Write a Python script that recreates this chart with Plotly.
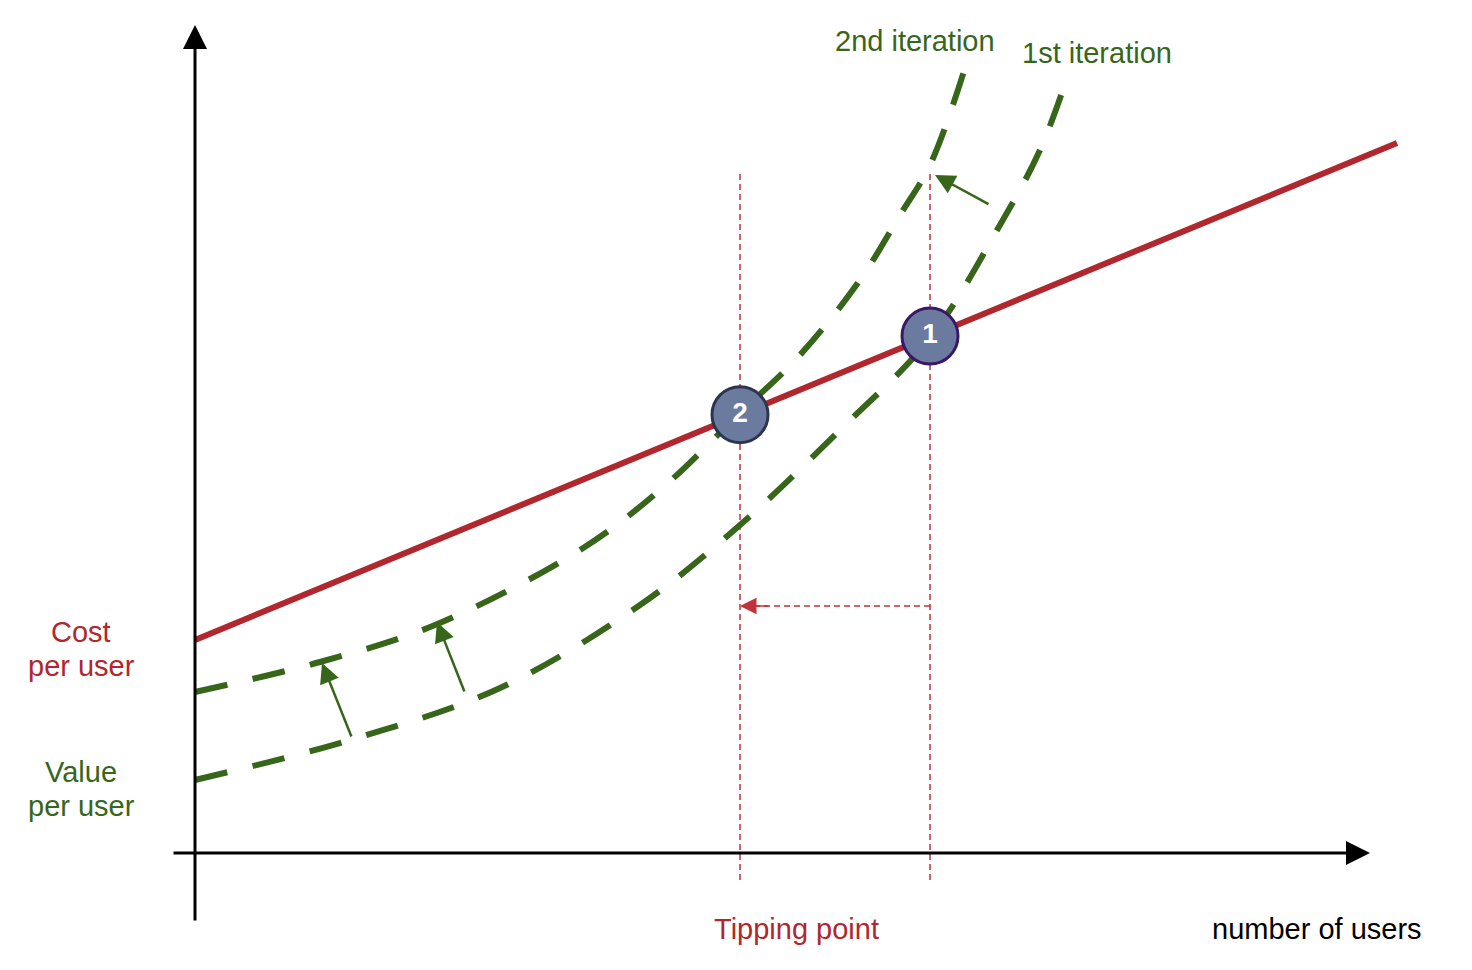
import plotly.graph_objects as go

# ---- data (units: x = users, y = value/cost per user; arbitrary concept units) ----
cost_x = [0.0, 12.02]
cost_y = [2.13, 7.10]

iter1_x = [0.00, 1.55, 3.05, 4.45, 5.45, 6.45, 7.35, 8.05, 8.45, 8.73]
iter1_y = [0.73, 1.13, 1.65, 2.48, 3.28, 4.23, 5.15, 6.28, 7.03, 7.78]

iter2_x = [0.00, 1.25, 2.40, 3.85, 4.65, 5.45, 6.05, 6.65, 7.05, 7.35, 7.70]
iter2_y = [1.61, 1.91, 2.28, 3.03, 3.63, 4.40, 4.98, 5.73, 6.38, 6.88, 7.85]

tipping_x = [7.35, 5.45]          # point 1, point 2
tipping_labels = ["1", "2"]

# shift arrows (tail x, tail y, head x, head y)
shift_tail_x = [1.57, 2.70, 7.95]
shift_tail_y = [1.15, 1.60, 6.48]
shift_head_x = [1.27, 2.42, 7.40]
shift_head_y = [1.90, 2.31, 6.78]

RED = "#b0272d"
RED_D = "#c0333a"
GREEN = "#37661b"
FONT = "Liberation Sans, Arial, Helvetica, sans-serif"

slope = (cost_y[1] - cost_y[0]) / (cost_x[1] - cost_x[0])
tip_y = [cost_y[0] + slope * x for x in tipping_x]

fig = go.Figure()

# vertical dashed red guide lines
for x in tipping_x:
    fig.add_trace(go.Scatter(x=[x, x], y=[-0.27, 6.81], mode="lines",
                             line=dict(color=RED_D, width=1.5, dash="6px,4px"),
                             hoverinfo="skip"))
# horizontal dashed arrow shaft
fig.add_trace(go.Scatter(x=[tipping_x[0], tipping_x[1] + 0.15], y=[2.47, 2.47], mode="lines",
                         line=dict(color=RED_D, width=1.5, dash="6px,4px"), hoverinfo="skip"))

# value curves
fig.add_trace(go.Scatter(x=iter1_x, y=iter1_y, mode="lines",
                         line=dict(color=GREEN, width=6, dash="33px,26px", shape="spline"),
                         hoverinfo="skip"))
fig.add_trace(go.Scatter(x=iter2_x, y=iter2_y, mode="lines",
                         line=dict(color=GREEN, width=6, dash="33px,26px", shape="spline"),
                         hoverinfo="skip"))

# cost line
fig.add_trace(go.Scatter(x=cost_x, y=cost_y, mode="lines",
                         line=dict(color=RED, width=6), hoverinfo="skip"))

# tipping point markers
border_cols = ["#3b1769", "#2c3550"]
for x, y, lab, bc in zip(tipping_x, tip_y, tipping_labels, border_cols):
    fig.add_trace(go.Scatter(x=[x], y=[y], mode="markers+text",
                             marker=dict(size=56, color="#6b7a9f", line=dict(color=bc, width=3)),
                             text=[f"<b>{lab}</b>"], textposition="middle center",
                             textfont=dict(color="white", size=28, family=FONT),
                             hoverinfo="skip"))

annotations = []

# axes with arrowheads
annotations.append(dict(x=0, y=8.28, ax=0, ay=-0.69, xref="x", yref="y", axref="x", ayref="y",
                        text="", showarrow=True, arrowhead=2, arrowsize=1.6, arrowwidth=3,
                        arrowcolor="black", standoff=0))
annotations.append(dict(x=11.75, y=0, ax=-0.23, ay=0, xref="x", yref="y", axref="x", ayref="y",
                        text="", showarrow=True, arrowhead=2, arrowsize=1.6, arrowwidth=3,
                        arrowcolor="black", standoff=0))

# horizontal red arrow head
annotations.append(dict(x=tipping_x[1], y=2.47, ax=tipping_x[1] + 0.3, ay=2.47,
                        xref="x", yref="y", axref="x", ayref="y",
                        text="", showarrow=True, arrowhead=2, arrowsize=2.2, arrowwidth=1.5,
                        arrowcolor=RED_D, standoff=0))

# green shift arrows
for tx, ty, hx, hy in zip(shift_tail_x, shift_tail_y, shift_head_x, shift_head_y):
    annotations.append(dict(x=hx, y=hy, ax=tx, ay=ty, xref="x", yref="y", axref="x", ayref="y",
                            text="", showarrow=True, arrowhead=2, arrowsize=1.6, arrowwidth=2.5,
                            arrowcolor=GREEN, standoff=0))

def label(x, y, text, color):
    annotations.append(dict(x=x, y=y, xref="x", yref="y", text=text, showarrow=False,
                            font=dict(family=FONT, size=29, color=color),
                            xanchor="center", yanchor="middle", align="center"))

label(-1.14, 2.21, "Cost", RED)
label(-1.14, 1.87, "per user", RED)
label(-1.14, 0.81, "Value", GREEN)
label(-1.14, 0.47, "per user", GREEN)
label(7.20, 8.12, "2nd iteration", GREEN)
label(9.02, 8.00, "1st iteration", GREEN)
label(6.01, -0.76, "Tipping point", RED)
label(11.22, -0.76, "number of users", "black")

fig.update_layout(
    width=1472, height=970,
    margin=dict(l=0, r=0, t=0, b=0),
    paper_bgcolor="white", plot_bgcolor="white",
    showlegend=False,
    xaxis=dict(range=[-1.95, 12.77], visible=False, fixedrange=True),
    yaxis=dict(range=[-1.17, 8.53], visible=False, fixedrange=True),
    annotations=annotations,
)

fig.write_html("out.html")
